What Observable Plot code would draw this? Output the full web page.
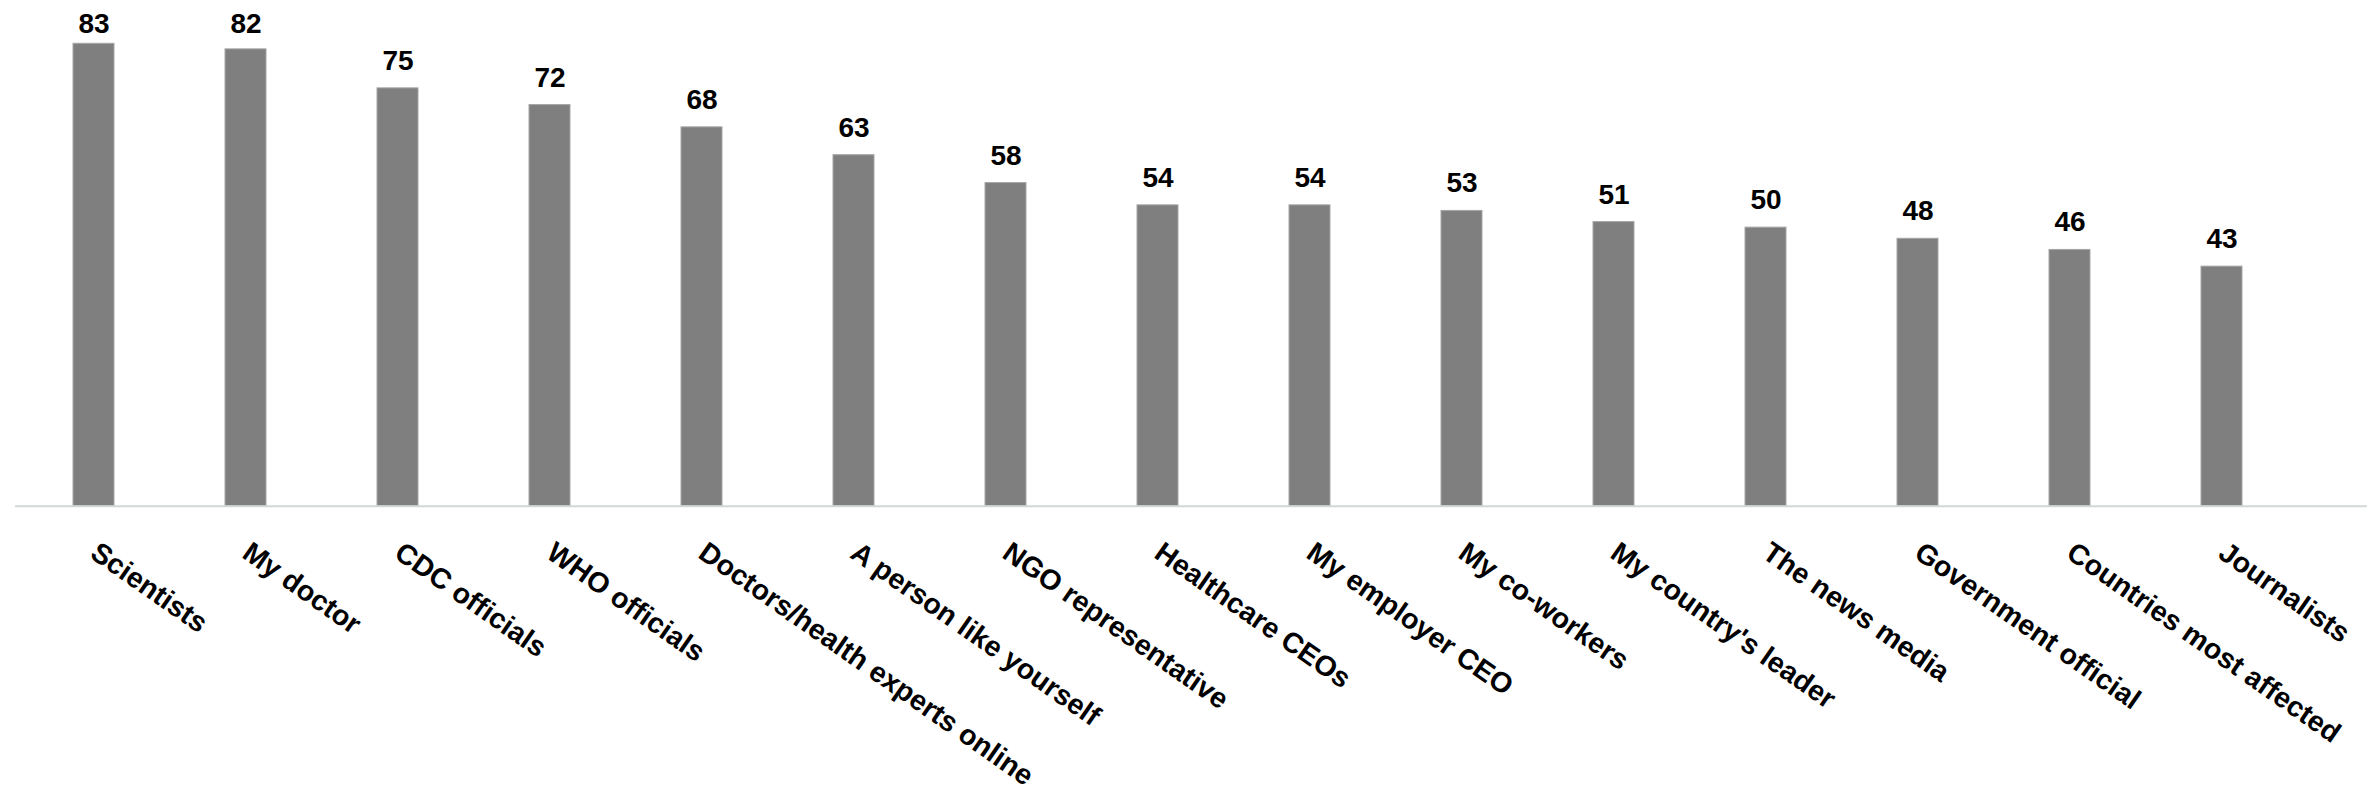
<!DOCTYPE html>
<html><head><meta charset="utf-8">
<script src="https://cdn.jsdelivr.net/npm/d3@7"></script>
<script src="https://cdn.jsdelivr.net/npm/@observablehq/plot@0.6"></script>
<style>html,body{margin:0;padding:0;background:#fff;}</style>
</head><body><div id="chart"></div>
<script>
const categories = ["Scientists", "My doctor", "CDC officials", "WHO officials", "Doctors/health experts online", "A person like yourself", "NGO representative", "Healthcare CEOs", "My employer CEO", "My co-workers", "My country's leader", "The news media", "Government official", "Countries most affected", "Journalists"];
const values = [83, 82, 75, 72, 68, 63, 58, 54, 54, 53, 51, 50, 48, 46, 43];
const data = categories.map((c, i) => ({category: c, value: values[i]}));

// Labels that would rise above the plot area are held at its top (as the original does).
const clampAbove = 81.4;

const chart = Plot.plot({
  width: 2379, height: 797,
  marginLeft: 15, marginRight: 78.6, marginTop: 4.3, marginBottom: 291.3,
  style: {fontFamily: "'Liberation Sans', Arial, sans-serif", background: "#fff", color: "#000"},
  x: {domain: categories, paddingInner: 0.73, paddingOuter: 0.365, label: null},
  y: {domain: [0, 90], axis: null},
  marks: [
    Plot.barY(data, {x: "category", y: "value", fill: "#7f7f7f", stroke: "#a5a5a5", strokeWidth: 1}),
    Plot.ruleY([0], {stroke: "#d3d7d7", strokeWidth: 2, insetRight: -66.4}),
    Plot.text(data, {filter: d => d.value <= clampAbove, x: "category", y: "value", text: d => String(d.value), lineAnchor: "bottom", dy: -18.5, fontSize: 28, fontWeight: "bold", fill: "#000"}),
    Plot.text(data, {filter: d => d.value > clampAbove, x: "category", frameAnchor: "top", text: d => String(d.value), lineAnchor: "top", dy: 8.4, fontSize: 28, fontWeight: "bold", fill: "#000"}),
    Plot.axisX({tickSize: 0, tickPadding: 43, tickRotate: 35, fontSize: 28.5, fontWeight: "bold", label: null})
  ]
});
document.getElementById("chart").append(chart);
</script>
</body></html>
